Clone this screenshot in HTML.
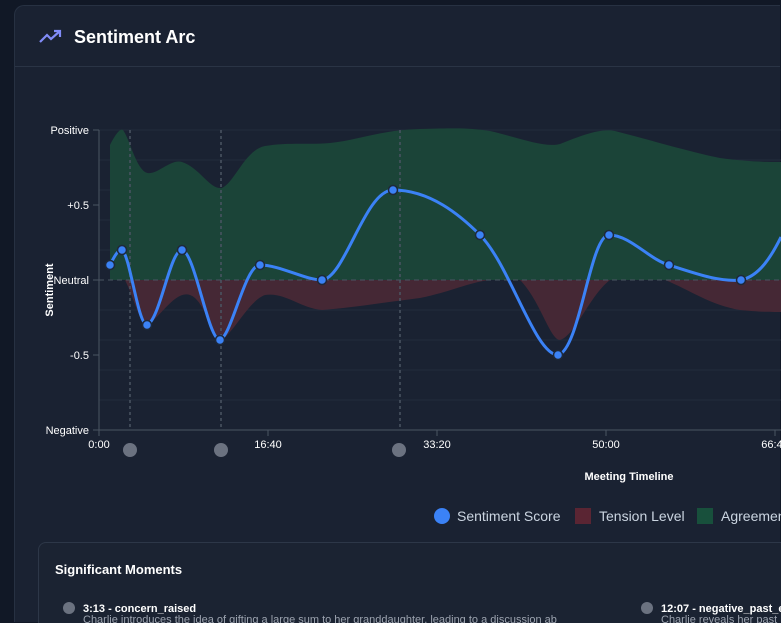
<!DOCTYPE html>
<html style="width:781px;height:623px;overflow:hidden"><head><style>
body{margin:0;width:781px;height:623px;overflow:hidden;background:#111826;font-family:"Liberation Sans",sans-serif;position:relative;}
.card{position:absolute;left:14px;top:5px;width:765px;height:616px;background:#1a2232;border:1px solid #273142;border-right:none;border-bottom:none;border-radius:10px 0 0 0;overflow:hidden;}
.hdr{position:absolute;left:0;top:0;width:765px;height:60px;border-bottom:1px solid #2a3445;}
.title{position:absolute;left:59px;top:21px;color:#fff;font-size:18px;font-weight:bold;}
.sm{position:absolute;left:38px;top:542px;width:742px;height:80px;border:1px solid #2d3748;border-right:none;border-bottom:none;border-radius:8px 0 0 0;background:#1b2332;}
</style></head><body>
<div class="card"><div class="hdr"></div>
<svg style="position:absolute;left:24px;top:22px" width="24" height="16" viewBox="0 0 24 16"><polyline points="1,14 8,7 12,11 21,3" fill="none" stroke="#818cf8" stroke-width="2.2"/><polyline points="15,3 21,3 21,9" fill="none" stroke="#818cf8" stroke-width="2.2"/></svg>
<div class="title">Sentiment Arc</div></div>
<svg style="position:absolute;left:0;top:0" width="781" height="623">
<g stroke="#222c3c" stroke-width="1">
<line x1="99" y1="130" x2="781" y2="130"/><line x1="99" y1="160" x2="781" y2="160"/><line x1="99" y1="190" x2="781" y2="190"/><line x1="99" y1="220" x2="781" y2="220"/><line x1="99" y1="250" x2="781" y2="250"/><line x1="99" y1="310" x2="781" y2="310"/><line x1="99" y1="340" x2="781" y2="340"/><line x1="99" y1="370" x2="781" y2="370"/><line x1="99" y1="400" x2="781" y2="400"/>
</g>
<path d="M110,280 L110,145 C115,135 120,128 123,130 C130,140 135,165 145,172 C155,178 170,158 182,162 C200,168 210,190 222,188 C235,182 245,150 265,146 C290,142 310,145 330,143 C360,140 380,130 420,129 C460,128 470,128 490,131 C520,138 545,148 560,144 C580,136 600,128 615,131 C650,140 690,152 720,158 C750,162 770,162 781,162 L781,280 Z" fill="#1b4438"/>
<path d="M110,280 L125,280 C135,300 140,325 147,325 C160,318 175,290 190,295 C205,300 212,338 222,340 C235,330 250,300 265,295 C285,292 300,308 322,310 C350,308 380,303 420,298 C450,292 470,282 490,280 L520,280 C540,300 550,340 560,340 C575,336 590,295 610,280 L665,280 C690,290 710,305 740,310 C760,312 770,312 781,312 L781,280 Z" fill="#452835"/>
<line x1="99" y1="280" x2="781" y2="280" stroke="#4b5563" stroke-dasharray="5,4"/>
<g stroke="#4b5563" stroke-width="1.5" stroke-dasharray="3,3"><line x1="130" y1="130" x2="130" y2="430"/><line x1="221" y1="130" x2="221" y2="430"/><line x1="400" y1="130" x2="400" y2="430"/></g>
<path d="M110,265 C115,255 118,250 122,250 C130,255 138,325 147,325 C160,320 170,250 182,250 C195,252 208,340 220,340 C232,335 245,265 260,265 C280,265 305,280 322,280 C345,278 365,190 393,190 C430,190 460,215 480,235 C510,265 535,355 558,355 C580,350 590,235 609,235 C630,235 650,260 669,265 C700,275 720,282 741,280 C760,276 772,255 781,237" fill="none" stroke="#3b82f6" stroke-width="3"/>
<g fill="#3b82f6" stroke="#1e293b" stroke-width="1.5">
<circle cx="110" cy="265" r="4.5"/><circle cx="122" cy="250" r="4.5"/><circle cx="147" cy="325" r="4.5"/><circle cx="182" cy="250" r="4.5"/><circle cx="220" cy="340" r="4.5"/><circle cx="260" cy="265" r="4.5"/><circle cx="322" cy="280" r="4.5"/><circle cx="393" cy="190" r="4.5"/><circle cx="480" cy="235" r="4.5"/><circle cx="558" cy="355" r="4.5"/><circle cx="609" cy="235" r="4.5"/><circle cx="669" cy="265" r="4.5"/><circle cx="741" cy="280" r="4.5"/></g>
<g stroke="#4b5563"><line x1="99" y1="130" x2="99" y2="430"/><line x1="99" y1="430" x2="781" y2="430"/>
<line x1="93" y1="130" x2="99" y2="130"/><line x1="93" y1="205" x2="99" y2="205"/><line x1="93" y1="280" x2="99" y2="280"/><line x1="93" y1="355" x2="99" y2="355"/><line x1="93" y1="430" x2="99" y2="430"/>
<line x1="99" y1="430" x2="99" y2="436"/><line x1="268" y1="430" x2="268" y2="436"/><line x1="437" y1="430" x2="437" y2="436"/><line x1="606" y1="430" x2="606" y2="436"/><line x1="775" y1="430" x2="775" y2="436"/></g>
<g fill="#fff" font-size="11" text-anchor="end"><text x="89" y="134">Positive</text><text x="89" y="209">+0.5</text><text x="89" y="284">Neutral</text><text x="89" y="359">-0.5</text><text x="89" y="434">Negative</text></g>
<g fill="#fff" font-size="11" text-anchor="middle"><text x="99" y="448">0:00</text><text x="268" y="448">16:40</text><text x="437" y="448">33:20</text><text x="606" y="448">50:00</text><text x="775" y="448">66:40</text></g>
<text x="629" y="480" fill="#fff" font-size="11" font-weight="bold" text-anchor="middle">Meeting Timeline</text>
<text x="53" y="290" fill="#fff" font-size="11" font-weight="bold" text-anchor="middle" transform="rotate(-90 53 290)">Sentiment</text>
<g fill="#6b7280"><circle cx="130" cy="450" r="7"/><circle cx="221" cy="450" r="7"/><circle cx="399" cy="450" r="7"/></g>
<circle cx="442" cy="516" r="8" fill="#3b82f6"/><text x="457" y="521" fill="#cbd5e1" font-size="14">Sentiment Score</text>
<rect x="575" y="508" width="16" height="16" fill="#5a2533"/><text x="599" y="521" fill="#cbd5e1" font-size="14">Tension Level</text>
<rect x="697" y="508" width="16" height="16" fill="#18503c"/><text x="721" y="521" fill="#cbd5e1" font-size="14">Agreement</text>
</svg>
<div class="sm"></div>
<svg style="position:absolute;left:0;top:0" width="781" height="623">
<text x="55" y="574" fill="#fff" font-size="13" font-weight="bold">Significant Moments</text>
<circle cx="69" cy="608" r="6" fill="#6b7280"/><text x="83" y="612" fill="#fff" font-size="11" font-weight="bold">3:13 - concern_raised</text>
<text x="83" y="623" fill="#9ca3af" font-size="11">Charlie introduces the idea of gifting a large sum to her granddaughter, leading to a discussion ab</text>
<circle cx="647" cy="608" r="6" fill="#6b7280"/><text x="661" y="612" fill="#fff" font-size="11" font-weight="bold">12:07 - negative_past_e</text>
<text x="661" y="623" fill="#9ca3af" font-size="11">Charlie reveals her past</text>
</svg>
</body></html>
